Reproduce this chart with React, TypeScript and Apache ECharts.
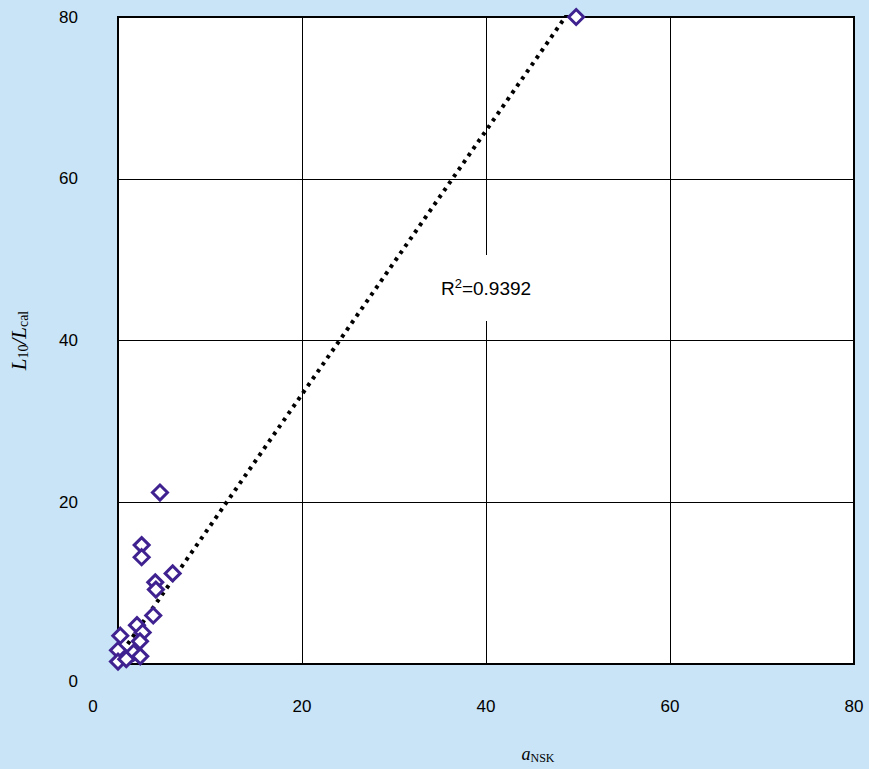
import React, { useEffect, useRef } from "react";
import * as echarts from "echarts";

// Measured bearing data: a_NSK life factor vs. L10/Lcal life ratio
const aNSK = [49.8, 4.56, 2.57, 2.57, 5.94, 4.05, 4.12, 3.83, 2.06, 2.68, 0.25, 2.39, 0.0, 1.7, 2.42, 0.0, 0.9];
const lifeRatio = [80, 21.2, 14.7, 13.2, 11.2, 10.1, 9.2, 6.0, 4.8, 3.9, 3.5, 2.8, 1.7, 1.4, 0.95, 0.3, 0.6];

// Linear trend line (least squares) and its coefficient of determination
const trendSlope = 1.63;
const trendIntercept = 0.75;
const rSquared = "0.9392";

// Axis ticks
const axisMin = 0;
const axisMax = 80;
const axisStep = 20;

const SANS = "'Liberation Sans', Arial, sans-serif";
const SERIF = "'Liberation Serif', 'DejaVu Serif', serif";

export default function App() {
  const ref = useRef<HTMLDivElement>(null);

  useEffect(() => {
    if (!ref.current) return;
    const chart = echarts.init(ref.current, null, { renderer: "svg" });

    const points = aNSK.map((x, i) => [x, lifeRatio[i]]);
    const xLo = Math.min(...aNSK);
    const xHi = Math.max(...aNSK);
    const trend = [
      [xLo, trendSlope * xLo + trendIntercept],
      [xHi, trendSlope * xHi + trendIntercept],
    ];

    const tickLabel = (v: number) => (v === 0 ? "{z|0}" : String(v));

    chart.setOption({
      animation: false,
      backgroundColor: "#c8e4f6",
      grid: {
        left: 117,
        right: 15,
        top: 17,
        bottom: 103,
        show: true,
        backgroundColor: "#ffffff",
        borderColor: "#000000",
        borderWidth: 2,
      },
      xAxis: {
        type: "value",
        min: axisMin,
        max: axisMax,
        interval: axisStep,
        name: "{i|a}{sub|NSK}",
        nameLocation: "middle",
        nameGap: 80,
        nameTextStyle: {
          padding: [0, 0, 0, 104],
          rich: {
            i: { fontFamily: SERIF, fontStyle: "italic", fontSize: 18, color: "#000" },
            sub: { fontFamily: SERIF, fontSize: 12, color: "#000", verticalAlign: "bottom", padding: [8, 0, 0, 0] },
          },
        },
        axisLine: { show: true, lineStyle: { color: "#000", width: 2 } },
        axisTick: { show: false },
        splitLine: { show: true, lineStyle: { color: "#000", width: 1 } },
        axisLabel: {
          margin: 34,
          fontFamily: SANS,
          fontSize: 17,
          color: "#000",
          formatter: tickLabel,
          rich: { z: { fontFamily: SANS, fontSize: 17, color: "#000", padding: [0, 50, 0, 0] } },
        },
      },
      yAxis: {
        type: "value",
        min: axisMin,
        max: axisMax,
        interval: axisStep,
        name: "{i|L}{sub|10}{n|/}{i|L}{sub|cal}",
        nameLocation: "middle",
        nameGap: 88,
        nameTextStyle: {
          rich: {
            i: { fontFamily: SERIF, fontStyle: "italic", fontSize: 21, color: "#000" },
            n: { fontFamily: SERIF, fontStyle: "italic", fontSize: 21, color: "#000" },
            sub: { fontFamily: SERIF, fontSize: 14, color: "#000", verticalAlign: "bottom", padding: [9, 0, 0, 0] },
          },
        },
        axisLine: { show: true, lineStyle: { color: "#000", width: 2 } },
        axisTick: { show: false },
        splitLine: { show: true, lineStyle: { color: "#000", width: 1 } },
        axisLabel: {
          margin: 40,
          fontFamily: SANS,
          fontSize: 17,
          color: "#000",
          formatter: tickLabel,
          rich: { z: { fontFamily: SANS, fontSize: 17, color: "#000", padding: [34, 0, 0, 0] } },
        },
      },
      series: [
        {
          type: "line",
          data: trend,
          symbol: "none",
          z: 2,
          lineStyle: { color: "#000", width: 4, type: [3.5, 5] },
        },
        {
          type: "scatter",
          data: points,
          symbol: "diamond",
          symbolSize: 15,
          clip: false,
          z: 3,
          itemStyle: { color: "#ffffff", borderColor: "#3f2290", borderWidth: 3, opacity: 1 },
        },
      ],
      graphic: [
        {
          type: "text",
          x: 486,
          y: 288,
          z: 10,
          style: {
            text: "R{sup|2}=" + rSquared,
            align: "center",
            verticalAlign: "middle",
            fontFamily: SANS,
            fontSize: 19,
            fill: "#000",
            backgroundColor: "#ffffff",
            padding: [22, 10, 22, 10],
            rich: {
              sup: { fontFamily: SANS, fontSize: 13, fill: "#000", verticalAlign: "top", padding: [0, 0, 9, 0] },
            },
          },
        },
      ],
    });

    return () => chart.dispose();
  }, []);

  return (
    <div
      ref={ref}
      style={{ position: "fixed", left: 0, top: 0, width: 869, height: 769 }}
    />
  );
}
